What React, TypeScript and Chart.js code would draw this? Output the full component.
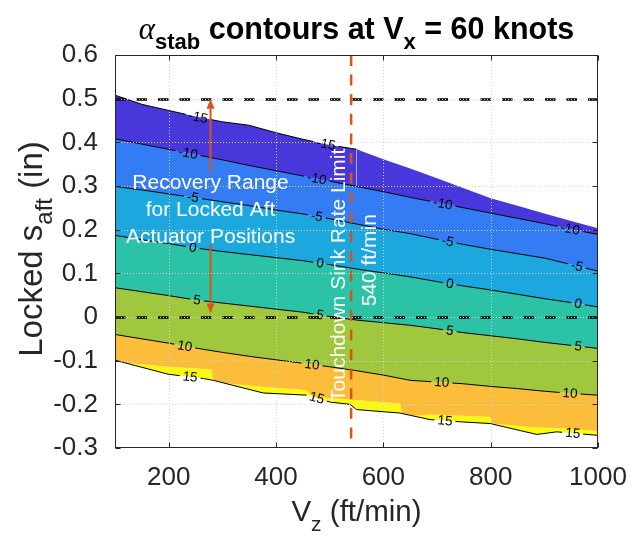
import { useEffect, useRef } from 'react';
import { Chart, registerables } from 'chart.js';

Chart.register(...registerables);

// ---------- data (Vz in ft/min, s_aft in inches) ----------
const vzGrid = [100, 150, 200, 250, 300, 350, 400, 450, 500, 550, 600, 650, 700, 750, 800, 850, 900, 950, 1000];
const topEdge = [0.508, 0.487, 0.473, 0.459, 0.447, 0.439, 0.422, 0.407, 0.394, 0.384, 0.361, 0.340, 0.318, 0.295, 0.272, 0.255, 0.237, 0.220, 0.203];
const contourM10 = [0.408, 0.396, 0.384, 0.372, 0.360, 0.347, 0.335, 0.323, 0.311, 0.299, 0.287, 0.274, 0.262, 0.250, 0.238, 0.226, 0.214, 0.201, 0.189];
const contourM5 = [0.299, 0.291, 0.282, 0.273, 0.264, 0.255, 0.245, 0.236, 0.225, 0.213, 0.201, 0.191, 0.178, 0.166, 0.155, 0.145, 0.135, 0.120, 0.105];
const contour0 = [0.187, 0.177, 0.168, 0.158, 0.150, 0.143, 0.136, 0.129, 0.120, 0.110, 0.101, 0.092, 0.081, 0.071, 0.062, 0.052, 0.042, 0.033, 0.023];
const contour5 = [0.067, 0.058, 0.049, 0.039, 0.032, 0.025, 0.018, 0.011, 0.001, -0.007, -0.013, -0.019, -0.027, -0.036, -0.043, -0.050, -0.058, -0.065, -0.072];
const contour10 = [-0.040, -0.050, -0.060, -0.071, -0.081, -0.090, -0.098, -0.106, -0.114, -0.123, -0.133, -0.145, -0.149, -0.153, -0.159, -0.164, -0.170, -0.175, -0.179];
const yellowTopVz = [100, 119, 199, 280, 283, 305, 376, 457, 469, 519, 631, 635, 659, 687, 799, 802, 886, 923, 1000];
const yellowTopS = [-0.099, -0.105, -0.114, -0.120, -0.145, -0.152, -0.160, -0.168, -0.183, -0.187, -0.198, -0.220, -0.226, -0.223, -0.229, -0.244, -0.253, -0.254, -0.261];
const contour15Vz = [100, 199, 265, 283, 376, 457, 469, 501, 538, 550, 631, 687, 743, 799, 886, 923, 1000];
const contour15S = [-0.099, -0.131, -0.141, -0.145, -0.174, -0.179, -0.183, -0.195, -0.200, -0.212, -0.220, -0.235, -0.240, -0.244, -0.269, -0.263, -0.271];
const edgeLineEndVz = 550;

const bandColors = ['rgb(72,56,220)', 'rgb(52,124,244)', 'rgb(28,168,222)', 'rgb(44,194,165)', 'rgb(160,200,62)', 'rgb(252,190,58)', 'rgb(248,250,16)'];

const contourLabelText = ['-15', '-15', '-10', '-10', '-10', '-10', '-5', '-5', '-5', '-5', '0', '0', '0', '0', '5', '5', '5', '5', '10', '10', '10', '10', '15', '15', '15', '15'];
const contourLabelLine = [0, 0, 1, 1, 1, 1, 2, 2, 2, 2, 3, 3, 3, 3, 4, 4, 4, 4, 5, 5, 5, 5, 7, 7, 7, 7];
const contourLabelVz = [255, 493, 236, 476, 711, 948, 245, 476, 720, 961, 245, 482, 724, 963, 253, 482, 724, 963, 230, 467, 709, 948, 240, 476, 715, 953];

const xTickValues = [200, 400, 600, 800, 1000];
const yTickValues = [-0.3, -0.2, -0.1, 0, 0.1, 0.2, 0.3, 0.4, 0.5, 0.6];
const recoveryBounds = [0.5, 0];
const sinkRateLimit = 540;
const arrowVz = 278;
const arrowFrom = [0.331, 0.167];
const arrowTo = [0.5, 0.008];
const recoveryLines = ['Recovery Range', 'for Locked Aft', 'Actuator Positions'];
const recoveryFirstBaselineS = 0.2935;
const limitLines = ['Touchdown Sink Rate Limit', '540 ft/min'];
const limitCenterS = [0.0955, 0.13];

// ---------- styles ----------
const SANS = '"Liberation Sans", Arial, Helvetica, sans-serif';
const AXIS_COLOR = '#262626';
const ORANGE = '#D95319';
const LABEL_FONT = `13.5px ${SANS}`;

const pts = (xs: number[], ys: number[]) => xs.map((x, i) => ({ x, y: ys[i] }));

function yOnPath(points: { x: number; y: number }[], px: number) {
  if (px <= points[0].x) return points[0].y;
  for (let i = 0; i < points.length - 1; i++) {
    const a = points[i], b = points[i + 1];
    if (px >= a.x && px <= b.x) {
      const t = (px - a.x) / ((b.x - a.x) || 1);
      return a.y + t * (b.y - a.y);
    }
  }
  return points[points.length - 1].y;
}

function labelGeometry(chart: any) {
  const xs = chart.scales.x;
  const out: { text: string; px: number; py: number; ang: number }[] = [];
  for (let i = 0; i < contourLabelText.length; i++) {
    const meta = chart.getDatasetMeta(contourLabelLine[i]);
    const p = meta.data.map((e: any) => ({ x: e.x, y: e.y }));
    const px = xs.getPixelForValue(contourLabelVz[i]);
    const py = yOnPath(p, px);
    const ang = Math.atan2(yOnPath(p, px + 12) - yOnPath(p, px - 12), 24);
    out.push({ text: contourLabelText[i], px, py, ang });
  }
  return out;
}

function drawParts(ctx: CanvasRenderingContext2D, parts: { t: string; font: string; dy: number }[], cx: number, base: number) {
  let total = 0;
  for (const p of parts) { ctx.font = p.font; total += ctx.measureText(p.t).width; }
  let x = cx - total / 2;
  ctx.textAlign = 'left';
  ctx.textBaseline = 'alphabetic';
  for (const p of parts) {
    ctx.font = p.font;
    ctx.fillText(p.t, x, base + p.dy);
    x += ctx.measureText(p.t).width;
  }
}

function arrow(ctx: CanvasRenderingContext2D, x: number, y0: number, y1: number) {
  const dir = Math.sign(y1 - y0);
  const head = 10, hw = 4;
  ctx.beginPath();
  ctx.moveTo(x, y0);
  ctx.lineTo(x, y1 - dir * head);
  ctx.stroke();
  ctx.beginPath();
  ctx.moveTo(x, y1);
  ctx.lineTo(x - hw, y1 - dir * head);
  ctx.lineTo(x + hw, y1 - dir * head);
  ctx.closePath();
  ctx.fill();
}

const overlay = {
  id: 'overlay',
  beforeDatasetsDraw(chart: any) {
    const ctx = chart.ctx as CanvasRenderingContext2D;
    ctx.save();
    ctx.beginPath();
    ctx.rect(0, 0, chart.width, chart.height);
    ctx.font = LABEL_FONT;
    for (const L of labelGeometry(chart)) {
      const w = ctx.measureText(L.text).width + 6, h = 12;
      const c = Math.cos(L.ang), s = Math.sin(L.ang);
      const corners = [[-w / 2, -h / 2], [w / 2, -h / 2], [w / 2, h / 2], [-w / 2, h / 2]].map(([dx, dy]) => [L.px + dx * c - dy * s, L.py + dx * s + dy * c]);
      ctx.moveTo(corners[0][0], corners[0][1]);
      for (let k = 1; k < 4; k++) ctx.lineTo(corners[k][0], corners[k][1]);
      ctx.closePath();
    }
    ctx.clip('evenodd');
  },
  afterDatasetsDraw(chart: any) {
    const ctx = chart.ctx as CanvasRenderingContext2D;
    ctx.restore();
    const a = chart.chartArea;
    const xs = chart.scales.x, ys = chart.scales.y;
    ctx.save();
    ctx.beginPath();
    ctx.rect(a.left, a.top, a.right - a.left, a.bottom - a.top);
    ctx.clip();

    // contour labels
    ctx.fillStyle = '#000';
    ctx.font = LABEL_FONT;
    ctx.textAlign = 'center';
    ctx.textBaseline = 'middle';
    for (const L of labelGeometry(chart)) {
      ctx.save();
      ctx.translate(L.px, L.py);
      ctx.rotate(L.ang);
      ctx.fillText(L.text, 0, 0.5);
      ctx.restore();
    }

    // recovery range dashed lines
    ctx.strokeStyle = '#000';
    ctx.lineWidth = 2.5;
    ctx.setLineDash([10.5, 11]);
    for (const v of recoveryBounds) {
      const py = Math.round(ys.getPixelForValue(v)) + 0.5;
      ctx.beginPath();
      ctx.moveTo(a.left, py);
      ctx.lineTo(a.right, py);
      ctx.stroke();
    }
    // sink rate limit
    const lx = xs.getPixelForValue(sinkRateLimit);
    ctx.strokeStyle = ORANGE;
    ctx.setLineDash([11, 8.6]);
    ctx.beginPath();
    ctx.moveTo(lx, a.top);
    ctx.lineTo(lx, a.bottom);
    ctx.stroke();
    ctx.setLineDash([]);

    // arrows
    ctx.strokeStyle = ORANGE;
    ctx.fillStyle = ORANGE;
    ctx.lineWidth = 2;
    const ax = xs.getPixelForValue(arrowVz);
    for (let i = 0; i < arrowFrom.length; i++) {
      arrow(ctx, ax, ys.getPixelForValue(arrowFrom[i]), ys.getPixelForValue(arrowTo[i]));
    }

    // white annotation texts
    ctx.fillStyle = '#fff';
    ctx.font = `21px ${SANS}`;
    ctx.textAlign = 'center';
    ctx.textBaseline = 'alphabetic';
    const b0 = ys.getPixelForValue(recoveryFirstBaselineS);
    recoveryLines.forEach((t, i) => ctx.fillText(t, ax, b0 + i * 27));
    const offs = [-6, 25];
    limitLines.forEach((t, i) => {
      ctx.save();
      ctx.translate(lx + offs[i], ys.getPixelForValue(limitCenterS[i]));
      ctx.rotate(-Math.PI / 2);
      ctx.fillText(t, 0, 0);
      ctx.restore();
    });

    // dotted grid
    ctx.strokeStyle = 'rgba(215,215,215,0.95)';
    ctx.lineWidth = 1;
    ctx.setLineDash([1, 2]);
    for (const v of xTickValues) {
      const px = Math.round(xs.getPixelForValue(v)) + 0.5;
      ctx.beginPath(); ctx.moveTo(px, a.top); ctx.lineTo(px, a.bottom); ctx.stroke();
    }
    for (const v of yTickValues) {
      const py = Math.round(ys.getPixelForValue(v)) + 0.5;
      ctx.beginPath(); ctx.moveTo(a.left, py); ctx.lineTo(a.right, py); ctx.stroke();
    }
    ctx.restore();
  },
  afterDraw(chart: any) {
    const ctx = chart.ctx as CanvasRenderingContext2D;
    const a = chart.chartArea;
    const xs = chart.scales.x, ys = chart.scales.y;
    ctx.save();
    ctx.strokeStyle = AXIS_COLOR;
    ctx.lineWidth = 1;
    ctx.setLineDash([]);
    const L = Math.round(a.left) + 0.5, R = Math.round(a.right) - 0.5, T = Math.round(a.top) + 0.5, B = Math.round(a.bottom) - 0.5;
    ctx.strokeRect(L, T, R - L, B - T);
    ctx.beginPath();
    for (const v of xTickValues) {
      const px = Math.round(xs.getPixelForValue(v)) + 0.5;
      ctx.moveTo(px, B); ctx.lineTo(px, B - 5);
      ctx.moveTo(px, T); ctx.lineTo(px, T + 5);
    }
    for (const v of yTickValues) {
      const py = Math.round(ys.getPixelForValue(v)) + 0.5;
      ctx.moveTo(L, py); ctx.lineTo(L + 5, py);
      ctx.moveTo(R, py); ctx.lineTo(R - 5, py);
    }
    ctx.stroke();

    const cx = (a.left + a.right) / 2;
    ctx.fillStyle = '#000';
    drawParts(ctx, [
      { t: 'α', font: `italic 31px "Liberation Serif", serif`, dy: 0 },
      { t: 'stab', font: `bold 22px ${SANS}`, dy: 10 },
      { t: ' contours at V', font: `bold 30.5px ${SANS}`, dy: 0 },
      { t: 'x', font: `bold 22px ${SANS}`, dy: 10 },
      { t: ' = 60 knots', font: `bold 30.5px ${SANS}`, dy: 0 },
    ], cx, 39);

    ctx.fillStyle = AXIS_COLOR;
    drawParts(ctx, [
      { t: 'V', font: `29.5px ${SANS}`, dy: 0 },
      { t: 'z', font: `21px ${SANS}`, dy: 10 },
      { t: ' (ft/min)', font: `29.5px ${SANS}`, dy: 0 },
    ], cx, 521);

    ctx.save();
    ctx.translate(42, 249);
    ctx.rotate(-Math.PI / 2);
    drawParts(ctx, [
      { t: 'Locked s', font: `33px ${SANS}`, dy: 0 },
      { t: 'aft', font: `24px ${SANS}`, dy: 10 },
      { t: ' (in)', font: `33px ${SANS}`, dy: 0 },
    ], 0, 0);
    ctx.restore();
    ctx.restore();
  },
};

export default function App() {
  const ref = useRef<HTMLCanvasElement>(null);
  useEffect(() => {
    const canvas = ref.current;
    if (!canvas) return;
    const line = (xs: number[], ys: number[], fill: any, bg: string, border: string) => ({
      data: pts(xs, ys),
      fill,
      backgroundColor: bg,
      borderColor: border,
      borderWidth: 1,
      pointRadius: 0,
      tension: 0,
    });
    const datasets: any[] = [
      {
        ...line(vzGrid, topEdge, false, 'rgba(0,0,0,0)', '#000'),
        segment: { borderColor: (c: any) => (c.p1.parsed.x <= edgeLineEndVz ? '#000' : 'rgba(0,0,0,0)') },
      },
      line(vzGrid, contourM10, '-1', bandColors[0], '#000'),
      line(vzGrid, contourM5, '-1', bandColors[1], '#000'),
      line(vzGrid, contour0, '-1', bandColors[2], '#000'),
      line(vzGrid, contour5, '-1', bandColors[3], '#000'),
      line(vzGrid, contour10, '-1', bandColors[4], '#000'),
      line(yellowTopVz, yellowTopS, '-1', bandColors[5], 'rgba(0,0,0,0)'),
      line(contour15Vz, contour15S, '-1', bandColors[6], '#000'),
    ];
    const tickFont = { family: SANS, size: 26 };
    const chart = new Chart(canvas, {
      type: 'line',
      data: { datasets },
      options: {
        animation: false,
        responsive: true,
        maintainAspectRatio: false,
        events: [],
        layout: { padding: { left: 0, top: 55, right: 43, bottom: 0 } },
        plugins: {
          legend: { display: false },
          tooltip: { enabled: false },
          filler: { drawTime: 'beforeDatasetsDraw', propagate: false },
        },
        scales: {
          x: {
            type: 'linear',
            min: 100,
            max: 1000,
            grid: { display: false },
            border: { display: false },
            afterBuildTicks: (s: any) => { s.ticks = xTickValues.map((value) => ({ value })); },
            afterFit: (s: any) => { s.height = 89; },
            ticks: { font: tickFont, color: AXIS_COLOR, padding: 6, maxRotation: 0, autoSkip: false, callback: (v: any) => String(v) },
          },
          y: {
            type: 'linear',
            min: -0.3,
            max: 0.6,
            grid: { display: false },
            border: { display: false },
            afterBuildTicks: (s: any) => { s.ticks = yTickValues.map((value) => ({ value })); },
            afterFit: (s: any) => { s.width = 115; },
            ticks: { font: tickFont, color: AXIS_COLOR, padding: 9, autoSkip: false, callback: (v: any) => (Math.abs(v) < 1e-9 ? '0' : Number(v).toFixed(1)) },
          },
        },
      } as any,
      plugins: [overlay],
    });
    return () => chart.destroy();
  }, []);
  return (
    <div style={{ position: 'fixed', left: 0, top: 0, width: 641, height: 537, background: '#fff' }}>
      <canvas ref={ref} />
    </div>
  );
}
